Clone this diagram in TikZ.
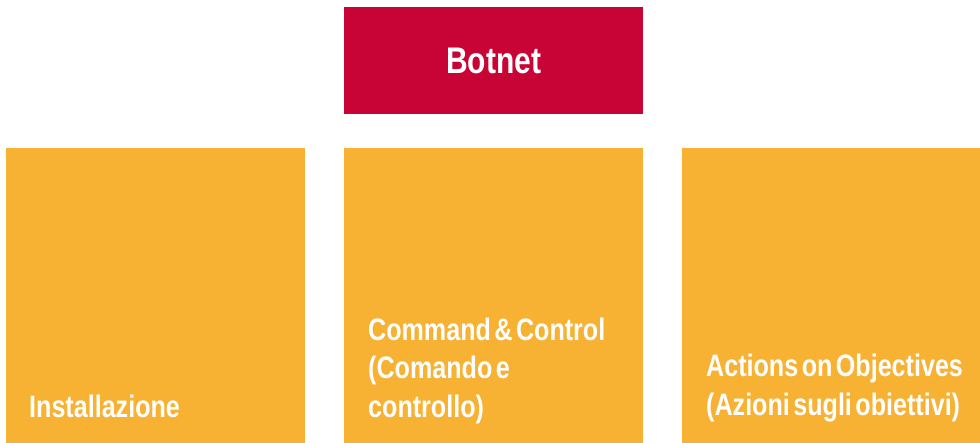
\documentclass[tikz,border=0pt]{standalone}
\usepackage{tikz}
\usepackage{fontspec,xcolor}
\newfontfamily\condfont{Liberation Sans}[FakeStretch=0.81,WordSpace=0.5]
\definecolor{botred}{RGB}{200,4,54}
\definecolor{phaseorange}{RGB}{247,177,51}
\tikzset{
  topbox/.style={fill=botred, minimum width=299pt, minimum height=107pt,
    inner sep=0pt, anchor=north west, text=white,
    font=\condfont\bfseries\fontsize{37}{42}\selectfont},
  phasebox/.style={fill=phaseorange, minimum width=299pt, minimum height=295pt,
    inner sep=0pt, anchor=north west},
  phaselabel/.style={anchor=south west, inner sep=0pt, text depth=0pt,
    align=left, text=white, font=\condfont\bfseries\fontsize{31}{38.5}\selectfont}
}

\begin{document}
\begin{tikzpicture}[x=1pt,y=-1pt]
\useasboundingbox (0,0) rectangle (980,443);
% top
\node[topbox] (botnet) at (344,7) {Botnet};
% phases
\node[phasebox] (inst) at (6,148) {};
\node[phasebox] (cc) at (344,148) {};
\node[phasebox, minimum width=298pt] (aoo) at (682,148) {};
\node[phaselabel] (instlabel) at ([shift={(23pt,26pt)}]inst.south west) {Installazione};
\node[phaselabel] (cclabel) at ([shift={(24pt,26pt)}]cc.south west)
  {Command \& Control\\(Comando e\\controllo)};
\node[phaselabel] (aoolabel) at ([shift={(24pt,28pt)}]aoo.south west)
  {Actions on Objectives\\(Azioni sugli obiettivi)};
\end{tikzpicture}
\end{document}
